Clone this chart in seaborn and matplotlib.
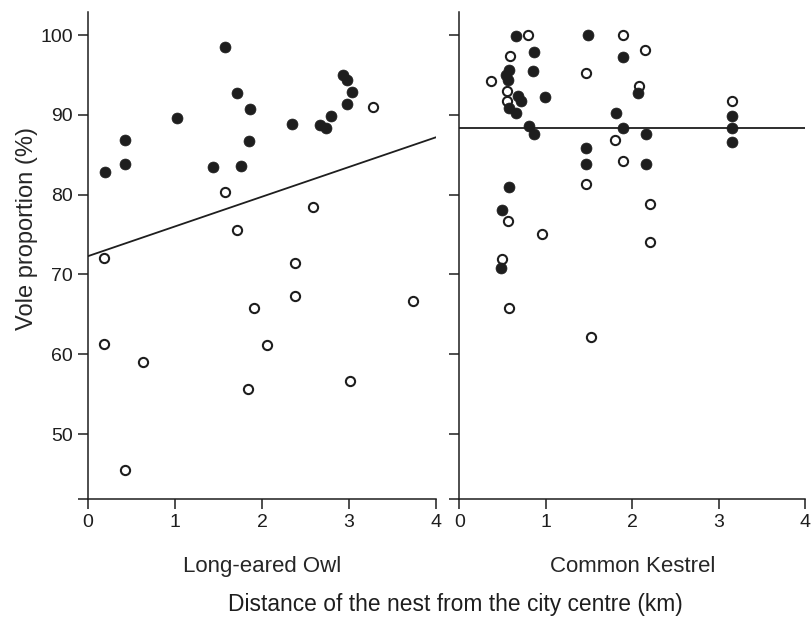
import matplotlib
matplotlib.use('Agg')
import matplotlib.pyplot as plt
import seaborn as sns

# --- data ---
owl_filled_x = [0.19, 0.425, 0.425, 1.02, 1.575, 1.71, 1.86, 1.85, 1.44, 1.76,
                2.93, 2.98, 3.03, 2.98, 2.79, 2.67, 2.74, 2.34]
owl_filled_y = [82.9, 86.8, 83.9, 89.6, 98.5, 92.7, 90.7, 86.7, 83.5, 83.6,
                95.0, 94.4, 92.9, 91.4, 89.9, 88.7, 88.3, 88.8]
owl_open_x = [1.575, 3.28, 1.71, 0.18, 1.91, 0.18, 0.63, 1.84, 0.425, 2.59,
              2.38, 2.38, 2.06, 3.01, 3.73]
owl_open_y = [80.4, 91.0, 75.6, 72.1, 65.8, 61.3, 59.0, 55.6, 45.5, 78.5,
              71.5, 67.3, 61.2, 56.7, 66.7]
owl_fit_x = [0, 4]
owl_fit_y = [72.3, 87.2]

kes_filled_x = [0.65, 1.49, 0.867, 1.89, 0.573, 0.543, 0.566, 0.856, 0.676, 0.718,
                0.993, 0.58, 0.657, 1.81, 0.81, 0.867, 1.89, 1.46, 1.47, 0.573,
                2.07, 2.16, 2.16, 3.155, 3.155, 3.155, 0.49, 0.48]
kes_filled_y = [99.9, 100.0, 97.9, 97.2, 95.6, 95.0, 94.4, 95.5, 92.4, 91.8,
                92.3, 90.9, 90.3, 90.3, 88.6, 87.6, 88.3, 85.9, 83.8, 81.0,
                92.8, 87.6, 83.9, 89.9, 88.4, 86.6, 78.1, 70.8]
kes_open_x = [0.80, 1.89, 0.584, 1.47, 0.363, 0.554, 0.55, 1.80, 1.89, 1.46,
              2.15, 2.08, 3.155, 0.558, 0.96, 0.49, 0.573, 1.52, 2.21, 2.21]
kes_open_y = [100.0, 100.0, 97.4, 95.3, 94.2, 93.0, 91.8, 86.8, 84.2, 81.3,
              98.1, 93.6, 91.8, 76.7, 75.1, 72.0, 65.8, 62.2, 78.8, 74.1]
kes_fit_x = [0, 4]
kes_fit_y = [88.4, 88.4]

panel_names = ['Long-eared Owl', 'Common Kestrel']
x_ticks = [0, 1, 2, 3, 4]
y_ticks = [50, 60, 70, 80, 90, 100]

sns.set_theme(style="ticks")
plt.rcParams['font.family'] = ['Liberation Sans', 'DejaVu Sans']
ink = '#1e1e1e'
plt.rcParams.update({
    'axes.edgecolor': ink, 'axes.linewidth': 1.1,
    'xtick.color': ink, 'ytick.color': ink,
    'xtick.major.size': 7, 'ytick.major.size': 7,
    'xtick.major.width': 1.1, 'ytick.major.width': 1.1,
    'text.color': ink,
})

fig = plt.figure(figsize=(8.12, 6.17), dpi=100)
ax_owl = fig.add_axes([88 / 812, 1 - 498.7 / 617, 348 / 812, 486.7 / 617])
ax_kes = fig.add_axes([459.3 / 812, 1 - 498.7 / 617, 346 / 812, 486.7 / 617])

ylo, yhi = 41.9, 102.9

panels = [
    (ax_owl, owl_filled_x, owl_filled_y, owl_open_x, owl_open_y, owl_fit_x, owl_fit_y),
    (ax_kes, kes_filled_x, kes_filled_y, kes_open_x, kes_open_y, kes_fit_x, kes_fit_y),
]

for i, (ax, fx, fy, ox, oy, lx, ly) in enumerate(panels):
    sns.lineplot(x=lx, y=ly, ax=ax, color=ink, linewidth=1.3)
    sns.scatterplot(x=ox, y=oy, ax=ax, marker='o', s=44, facecolor='white',
                    edgecolor=ink, linewidth=1.5, zorder=3)
    sns.scatterplot(x=fx, y=fy, ax=ax, marker='o', s=62, color=ink,
                    edgecolor=ink, linewidth=0.5, zorder=4)
    ax.set_xlim(0, 4)
    ax.set_ylim(ylo, yhi)
    ax.set_xticks(x_ticks)
    ax.set_xticklabels([str(t) for t in x_ticks], fontsize=14)
    ax.set_yticks([ylo] + y_ticks)
    if i == 0:
        ax.set_yticklabels([''] + [str(t) for t in y_ticks], fontsize=14)
        ax.set_ylabel('Vole proportion (%)', fontsize=17)
        ax.yaxis.set_label_coords(-0.145, 0.555)
    else:
        ax.set_yticklabels([''] * (len(y_ticks) + 1))
        ax.set_ylabel('')
    ax.tick_params(axis='both', pad=4)
    ax.set_xlabel(panel_names[i], fontsize=16, labelpad=18)
    sns.despine(ax=ax)

fig.text(455 / 812, 1 - 604 / 617, 'Distance of the nest from the city centre (km)',
         fontsize=16.4, ha='center', va='center')

fig.savefig('out.png', dpi=100)
